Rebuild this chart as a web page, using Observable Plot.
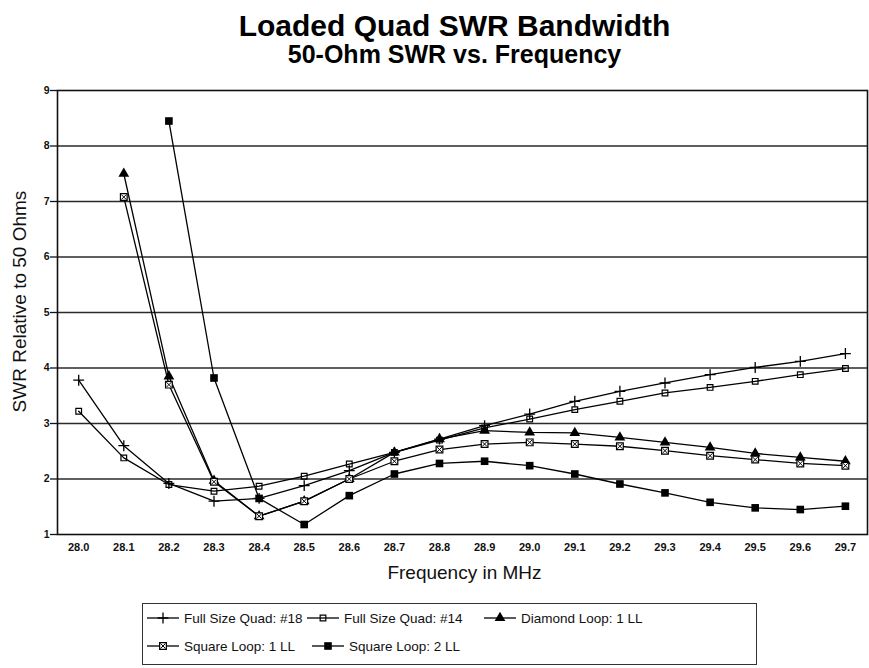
<!DOCTYPE html>
<html>
<head>
<meta charset="utf-8">
<script src="https://cdn.jsdelivr.net/npm/d3@7"></script>
<script src="https://cdn.jsdelivr.net/npm/@observablehq/plot@0.6"></script>
<style>
  html, body { margin: 0; padding: 0; background: #fff; }
  #wrap { position: relative; width: 869px; height: 668px; font-family: "Liberation Sans", Arial, sans-serif; color: #111; overflow: hidden; }
  .ttl { position: absolute; left: 0; width: 869px; padding-left: 40px; box-sizing: border-box; text-align: center; font-weight: bold; white-space: nowrap; color: #000; }
  #title { top: 11px; font-size: 30px; line-height: 30px; }
  #subtitle { top: 42px; font-size: 25px; line-height: 25px; }
  #chart { position: absolute; left: 0; top: 70px; }
  #legend { position: absolute; left: 142px; top: 603px; width: 615px; height: 62px; border: 1px solid #333; box-sizing: border-box; background: #fff; }
  .item { position: absolute; display: flex; align-items: center; font-size: 13.5px; white-space: nowrap; height: 16px; }
  .item svg { margin-right: 4px; }
</style>
</head>
<body>
<div id="wrap">
  <div id="title" class="ttl">Loaded Quad SWR Bandwidth</div>
  <div id="subtitle" class="ttl">50-Ohm SWR vs. Frequency</div>
  <div id="chart"></div>
  <div id="legend"></div>
</div>
<script>
// ---- data ----
const freqs = [28.0, 28.1, 28.2, 28.3, 28.4, 28.5, 28.6, 28.7, 28.8, 28.9, 29.0, 29.1, 29.2, 29.3, 29.4, 29.5, 29.6, 29.7];
const yTicks = [1, 2, 3, 4, 5, 6, 7, 8, 9];
const gridLines = [2, 3, 4, 5, 6, 7, 8];
const seriesNames = ["Full Size Quad: #18", "Full Size Quad: #14", "Diamond Loop: 1 LL", "Square Loop: 1 LL", "Square Loop: 2 LL"];
const fullQuad18 = [3.78, 2.60, 1.92, 1.60, 1.65, 1.88, 2.15, 2.48, 2.72, 2.96, 3.17, 3.40, 3.58, 3.73, 3.88, 4.01, 4.12, 4.26];
const fullQuad14 = [3.22, 2.38, 1.90, 1.78, 1.87, 2.05, 2.27, 2.48, 2.70, 2.92, 3.08, 3.25, 3.40, 3.55, 3.65, 3.76, 3.88, 3.99];
const diamondLoop1 = [null, 7.50, 3.85, 1.97, 1.33, 1.60, 2.00, 2.48, 2.72, 2.87, 2.84, 2.83, 2.75, 2.66, 2.57, 2.46, 2.39, 2.32];
const squareLoop1 = [null, 7.08, 3.70, 1.95, 1.33, 1.60, 2.00, 2.32, 2.53, 2.63, 2.66, 2.63, 2.59, 2.51, 2.42, 2.35, 2.28, 2.24];
const squareLoop2 = [null, null, 8.45, 3.82, 1.65, 1.18, 1.70, 2.09, 2.28, 2.32, 2.24, 2.09, 1.91, 1.75, 1.58, 1.48, 1.45, 1.51];
const xLabel = "Frequency in MHz";
const yLabel = "SWR Relative to 50 Ohms";

const seriesValues = [fullQuad18, fullQuad14, diamondLoop1, squareLoop1, squareLoop2];
const rows = freqs.flatMap((f, i) => seriesNames.map((s, k) => ({freq: f, swr: seriesValues[k][i], series: s})))
  .filter(d => d.swr != null);
const bySeries = s => rows.filter(d => d.series === s);

// marker styles
const markerStyles = {
  "Full Size Quad: #18": [{symbol: "plus", r: 3.6, stroke: "#000", strokeWidth: 1.3}],
  "Full Size Quad: #14": [{symbol: "square", r: 3.2, fill: "none", stroke: "#000", strokeWidth: 1.2}],
  "Diamond Loop: 1 LL": [{symbol: "triangle", r: 4, fill: "#000", stroke: "none"}],
  "Square Loop: 1 LL": [{symbol: "square", r: 3.8, fill: "#fff", stroke: "#000", strokeWidth: 1.2}, {symbol: "times", r: 2.4, stroke: "#000", strokeWidth: 1}],
  "Square Loop: 2 LL": [{symbol: "square", r: 4.3, fill: "#000", stroke: "none"}]
};

const dotMarks = seriesNames.flatMap(s => markerStyles[s].map(st => Plot.dot(bySeries(s), {x: "freq", y: "swr", ...st})));

const chart = Plot.plot({
  width: 869,
  height: 530,
  marginTop: 20,
  marginBottom: 66,
  marginLeft: 57,
  marginRight: 2,
  style: {background: "transparent", fontFamily: "Liberation Sans, Arial, sans-serif", color: "#111"},
  x: {type: "linear", domain: [27.953, 29.749]},
  y: {domain: [1, 9]},
  marks: [
    Plot.ruleY(gridLines, {stroke: "#2a2a2a", strokeWidth: 1.3}),
    Plot.frame({stroke: "#111", strokeWidth: 1.6}),
    Plot.axisX({ticks: freqs, tickFormat: d3.format(".1f"), tickSize: 0, tickPadding: 9, fontSize: 11, fontWeight: "bold", label: null}),
    Plot.axisY({ticks: yTicks, tickFormat: d3.format("d"), tickSize: 7, tickPadding: 1, fontSize: 10.5, fontWeight: "bold", label: null, strokeWidth: 1.3}),
    Plot.text([xLabel], {frameAnchor: "bottom", textAnchor: "middle", dy: 44, dx: 2, fontSize: 19, fill: "#111"}),
    Plot.text([yLabel], {frameAnchor: "left", textAnchor: "middle", rotate: -90, dx: -38, dy: -11, fontSize: 19, fill: "#111"}),
    Plot.line(rows, {x: "freq", y: "swr", z: "series", stroke: "#000", strokeWidth: 1.3}),
    ...dotMarks
  ]
});
document.getElementById("chart").appendChild(chart);

// legend
const legendPos = [
  {left: 3, top: 6}, {left: 163, top: 6}, {left: 340, top: 6},
  {left: 3, top: 34}, {left: 168, top: 34}
];
const symPath = (st) => {
  const size = Math.PI * st.r * st.r;
  const sym = {plus: d3.symbolPlus, square: d3.symbolSquare, triangle: d3.symbolTriangle, times: d3.symbolTimes}[st.symbol];
  return d3.symbol(sym, size)();
};
const legend = document.getElementById("legend");
seriesNames.forEach((s, k) => {
  const div = document.createElement("div");
  div.className = "item";
  div.style.left = legendPos[k].left + "px";
  div.style.top = legendPos[k].top + "px";
  const w = 34, h = 14;
  let svg = `<svg width="${w}" height="${h}" viewBox="0 0 ${w} ${h}"><line x1="1" x2="${w - 1}" y1="${h / 2}" y2="${h / 2}" stroke="#000" stroke-width="1.3"/>`;
  markerStyles[s].forEach(st => {
    svg += `<path transform="translate(${w / 2},${h / 2})" d="${symPath(st)}" fill="${st.fill || "none"}" stroke="${st.stroke || "none"}" stroke-width="${st.strokeWidth || 1}"/>`;
  });
  svg += `</svg>`;
  div.innerHTML = svg + `<span>${s}</span>`;
  legend.appendChild(div);
});
</script>
</body>
</html>
